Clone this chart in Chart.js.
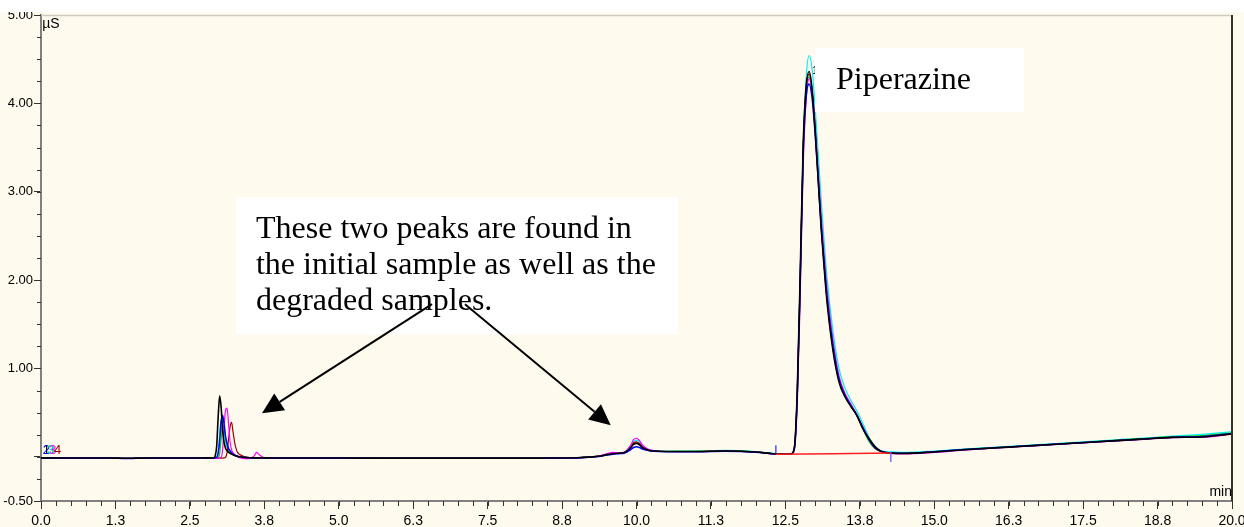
<!DOCTYPE html>
<html><head><meta charset="utf-8">
<script src="https://cdn.jsdelivr.net/npm/chart.js@4.4.1/dist/chart.umd.min.js"></script>
<style>html,body{margin:0;padding:0;background:#fefaee;}canvas{display:block;}</style>
</head><body>
<canvas id="c" width="1244" height="527"></canvas>
<script>
// retention time grid (min)
const times = [
  0, 0.5, 1.0, 1.3, 1.45, 1.6, 2.0, 2.5, 2.8,
  2.9, 2.925, 2.95, 2.975, 3.0, 3.025, 3.05, 3.075, 3.1,
  3.125, 3.15, 3.175, 3.2, 3.225, 3.25, 3.275, 3.3,
  3.35, 3.4, 3.5, 3.58, 3.62, 3.67, 3.75, 4.0,
  5.0, 6.0, 7.0, 8.0, 8.5, 8.8, 9.0, 9.2, 9.4, 9.5,
  9.6, 9.7, 9.8, 9.9, 9.95, 10.0, 10.05, 10.1, 10.2, 10.3,
  10.5, 11.0, 11.5, 12.0, 12.3, 12.5, 12.6, 12.65,
  12.7, 12.75, 12.8, 12.85, 12.9, 12.95, 13.0, 13.05, 13.1, 13.15,
  13.2, 13.3, 13.4, 13.5, 13.6, 13.7, 13.8, 13.9, 14.0, 14.1, 14.2, 14.3,
  14.5, 15.0, 15.5, 16.0, 16.5, 17.0, 17.5, 18.0, 18.5, 19.0, 19.5, 20.0
];
// conductivity (µS) per sample
const sample1Black = [
  -0.012, -0.013, -0.014, -0.015, -0.017, -0.015, -0.014, -0.014, -0.012,
  -0.012, 0.010, 0.120, 0.450, 0.690, 0.560, 0.300, 0.160, 0.095,
  0.070, 0.052, 0.040, 0.030, 0.022, 0.015, 0.010, 0.005,
  0.000, -0.005, -0.010, -0.012, -0.012, -0.012, -0.012, -0.013,
  -0.014, -0.015, -0.015, -0.015, -0.014, -0.013, -0.011, -0.004, 0.010, 0.025,
  0.035, 0.040, 0.050, 0.100, 0.140, 0.150, 0.135, 0.105, 0.075, 0.065,
  0.060, 0.060, 0.065, 0.055, 0.035, 0.030, 0.035, 0.100,
  0.75, 2.10, 3.55, 4.20, 4.36, 4.15, 3.70, 3.15, 2.60, 2.15,
  1.75, 1.20, 0.85, 0.68, 0.57, 0.47, 0.32, 0.21, 0.12, 0.065, 0.045, 0.040,
  0.038, 0.055, 0.080, 0.100, 0.120, 0.140, 0.160, 0.180, 0.200, 0.220, 0.225, 0.260
];
const sample2Blue = [
  -0.012, -0.013, -0.014, -0.016, -0.020, -0.016, -0.014, -0.013, -0.012,
  -0.012, -0.010, -0.005, 0.040, 0.180, 0.400, 0.470, 0.370, 0.230,
  0.150, 0.095, 0.068, 0.047, 0.032, 0.021, 0.012, 0.006,
  0.000, -0.005, -0.010, -0.012, -0.012, -0.012, -0.012, -0.013,
  -0.014, -0.015, -0.016, -0.016, -0.015, -0.014, -0.012, -0.006, 0.006, 0.020,
  0.030, 0.036, 0.044, 0.080, 0.105, 0.115, 0.105, 0.088, 0.070, 0.062,
  0.058, 0.058, 0.062, 0.052, 0.033, 0.028, 0.033, 0.090,
  0.70, 2.00, 3.45, 4.08, 4.22, 4.05, 3.65, 3.15, 2.62, 2.20,
  1.80, 1.25, 0.88, 0.70, 0.58, 0.47, 0.33, 0.20, 0.11, 0.065, 0.050, 0.042,
  0.040, 0.058, 0.082, 0.102, 0.122, 0.142, 0.162, 0.182, 0.203, 0.222, 0.230, 0.265
];
const sample3Magenta = [
  -0.013, -0.014, -0.015, -0.016, -0.019, -0.017, -0.016, -0.016, -0.016,
  -0.016, -0.016, -0.016, -0.016, -0.014, -0.005, 0.080, 0.350, 0.530,
  0.550, 0.370, 0.170, 0.080, 0.045, 0.028, 0.014, 0.002,
  -0.012, -0.020, -0.020, 0.010, 0.050, 0.020, -0.010, -0.016,
  -0.018, -0.018, -0.018, -0.018, -0.017, -0.015, -0.012, -0.004, 0.015, 0.035,
  0.050, 0.045, 0.055, 0.130, 0.195, 0.210, 0.185, 0.135, 0.085, 0.068,
  0.060, 0.058, 0.063, 0.052, 0.032, 0.027, 0.030, 0.075,
  0.60, 1.85, 3.30, 4.05, 4.28, 4.12, 3.75, 3.25, 2.75, 2.30,
  1.90, 1.32, 0.92, 0.72, 0.60, 0.48, 0.34, 0.21, 0.11, 0.065, 0.045, 0.036,
  0.032, 0.050, 0.075, 0.098, 0.118, 0.138, 0.158, 0.178, 0.198, 0.218, 0.220, 0.258
];
const sample4DarkRed = [
  -0.013, -0.014, -0.015, -0.016, -0.018, -0.016, -0.015, -0.015, -0.015,
  -0.015, -0.015, -0.015, -0.015, -0.015, -0.015, -0.014, -0.012, -0.005,
  0.050, 0.200, 0.340, 0.390, 0.280, 0.170, 0.095, 0.050,
  0.022, 0.006, -0.008, -0.012, -0.012, -0.012, -0.013, -0.014,
  -0.015, -0.016, -0.016, -0.016, -0.015, -0.013, -0.011, -0.004, 0.010, 0.026,
  0.036, 0.042, 0.050, 0.110, 0.160, 0.170, 0.150, 0.115, 0.078, 0.066,
  0.060, 0.060, 0.066, 0.056, 0.035, 0.030, 0.034, 0.095,
  0.72, 2.05, 3.50, 4.18, 4.33, 4.13, 3.70, 3.17, 2.63, 2.18,
  1.78, 1.22, 0.86, 0.69, 0.58, 0.47, 0.33, 0.20, 0.10, 0.060, 0.045, 0.040,
  0.038, 0.055, 0.080, 0.100, 0.120, 0.140, 0.160, 0.180, 0.200, 0.220, 0.225, 0.260
];
const sample5Green = [
  -0.012, -0.013, -0.014, -0.015, -0.017, -0.015, -0.014, -0.014, -0.013,
  -0.013, -0.013, -0.012, -0.008, 0.040, 0.200, 0.360, 0.330, 0.200,
  0.120, 0.080, 0.055, 0.040, 0.028, 0.018, 0.010, 0.005,
  0.000, -0.005, -0.010, -0.012, -0.012, -0.012, -0.012, -0.013,
  -0.014, -0.015, -0.015, -0.015, -0.014, -0.013, -0.011, -0.004, 0.010, 0.025,
  0.035, 0.041, 0.050, 0.105, 0.150, 0.160, 0.145, 0.110, 0.077, 0.066,
  0.061, 0.063, 0.070, 0.057, 0.035, 0.030, 0.034, 0.090,
  0.72, 2.05, 3.50, 4.15, 4.30, 4.12, 3.72, 3.20, 2.68, 2.22,
  1.82, 1.25, 0.88, 0.70, 0.58, 0.47, 0.32, 0.18, 0.095, 0.060, 0.048, 0.045,
  0.043, 0.060, 0.084, 0.104, 0.124, 0.144, 0.165, 0.186, 0.207, 0.228, 0.240, 0.270
];
const sample6Cyan = [
  -0.012, -0.013, -0.014, -0.015, -0.017, -0.015, -0.014, -0.014, -0.013,
  -0.013, -0.012, -0.008, 0.060, 0.250, 0.430, 0.400, 0.270, 0.160,
  0.105, 0.072, 0.052, 0.036, 0.025, 0.018, 0.010, 0.005,
  0.000, -0.005, -0.010, -0.012, -0.012, -0.012, -0.012, -0.013,
  -0.013, -0.014, -0.014, -0.014, -0.013, -0.012, -0.009, -0.002, 0.012, 0.027,
  0.037, 0.043, 0.052, 0.120, 0.175, 0.190, 0.170, 0.125, 0.082, 0.068,
  0.062, 0.065, 0.072, 0.060, 0.038, 0.032, 0.036, 0.090,
  0.68, 2.00, 3.50, 4.30, 4.54, 4.38, 3.95, 3.45, 2.92, 2.45,
  2.02, 1.42, 1.00, 0.78, 0.64, 0.52, 0.38, 0.23, 0.12, 0.070, 0.058, 0.055,
  0.050, 0.065, 0.088, 0.108, 0.128, 0.148, 0.168, 0.190, 0.212, 0.235, 0.255, 0.285
];
// integration baseline and peak delimiters
const baselineT = [12.34, 14.27];
const baselineV = [0.028, 0.043];
const startMarkT = [12.34, 12.34];
const startMarkV = [0.04, 0.13];
const endMarkT = [14.27, 14.27];
const endMarkV = [0.05, -0.06];
// axes
const xTickValues = [0, 1.25, 2.5, 3.75, 5, 6.25, 7.5, 8.75, 10, 11.25, 12.5, 13.75, 15, 16.25, 17.5, 18.75, 20];
const xTickLabels = ['0.0','1.3','2.5','3.8','5.0','6.3','7.5','8.8','10.0','11.3','12.5','13.8','15.0','16.3','17.5','18.8','20.0'];
const yTickValues = [-0.5, 0, 1, 2, 3, 4, 5];
const yTickLabels = ['-0.50', '', '1.00', '2.00', '3.00', '4.00', '5.00'];
const noteLines = ['These two peaks are found in', 'the initial sample as well as the', 'degraded samples.'];
const peakName = 'Piperazine';

const SANS = "'Liberation Sans',Arial,sans-serif";
const SERIF = "'Liberation Serif','Times New Roman',serif";
const BG = '#fefaee';

const pts = (ts, vs) => ts.map((t, i) => ({x: t, y: vs[i]}));
const line = (ts, vs, color, w) => ({data: pts(ts, vs), borderColor: color, borderWidth: w, pointRadius: 0,
  fill: false, cubicInterpolationMode: 'monotone'});

const decor = {
  id: 'decor',
  beforeDraw(chart) {
    const c = chart.ctx;
    c.save(); c.fillStyle = BG; c.fillRect(0, 0, chart.width, chart.height); c.restore();
  },
  afterDraw(chart) {
    const c = chart.ctx, x = chart.scales.x, y = chart.scales.y, a = chart.chartArea;
    const X = v => x.getPixelForValue(v), Y = v => y.getPixelForValue(v);
    c.save();
    // frame: top and right
    c.strokeStyle = '#cfcabd'; c.lineWidth = 1.5;
    c.beginPath(); c.moveTo(a.left, a.top + 0.5); c.lineTo(a.right, a.top + 0.5); c.stroke();
    c.strokeStyle = '#333'; c.lineWidth = 2;
    c.beginPath(); c.moveTo(a.right, a.top); c.lineTo(a.right, a.bottom); c.stroke();
    // minor ticks
    c.strokeStyle = '#333'; c.lineWidth = 1;
    for (let k = 0; k <= 80; k++) {
      const px = Math.round(X(k * 0.25)) + 0.5;
      c.beginPath(); c.moveTo(px, a.bottom); c.lineTo(px, a.bottom + 5); c.stroke();
    }
    for (let k = 0; k <= 22; k++) {
      const py = Math.round(Y(-0.5 + k * 0.25)) + 0.5;
      c.beginPath(); c.moveTo(a.left - 4, py); c.lineTo(a.left, py); c.stroke();
    }
    // unit labels
    c.fillStyle = '#000'; c.font = '14px ' + SANS; c.textBaseline = 'middle';
    c.textAlign = 'left'; c.fillText('µS', X(0.02), Y(4.9));
    c.textAlign = 'right'; c.fillText('min', X(20), Y(-0.40));
    // trace numbers
    c.textAlign = 'left'; c.font = '13px ' + SANS;
    [['1', '#000', 0.03], ['2', '#0000ff', 0.03], ['3', '#00c000', 0.10], ['3', '#00e0e0', 0.11], ['3', '#ff00ff', 0.14], ['4', '#a00000', 0.22]]
      .forEach(([t, col, tx]) => { c.fillStyle = col; c.fillText(t, X(tx), Y(0.075)); });
    c.fillStyle = '#000'; c.font = '10px ' + SANS; c.fillText('1', X(12.95), Y(4.36));
    // note boxes
    c.fillStyle = '#fff';
    c.fillRect(X(3.275), Y(2.939), X(10.697) - X(3.275), Y(1.387) - Y(2.939));
    c.fillRect(X(12.998), Y(4.626), X(16.507) - X(12.998), Y(3.901) - Y(4.626));
    c.fillStyle = '#000'; c.font = '32px ' + SERIF; c.textAlign = 'left'; c.textBaseline = 'alphabetic';
    [2.474, 2.067, 1.659].forEach((v, i) => c.fillText(noteLines[i], X(3.61), Y(v)));
    c.fillText(peakName, X(13.35), Y(4.162));
    // arrows
    const arrow = (t0, v0, t1, v1) => {
      const x0 = X(t0), y0 = Y(v0), x1 = X(t1), y1 = Y(v1);
      const ang = Math.atan2(y1 - y0, x1 - x0), L = 21, W = 10;
      const bx = x1 - L * Math.cos(ang), by = y1 - L * Math.sin(ang);
      c.strokeStyle = '#000'; c.lineWidth = 2;
      c.beginPath(); c.moveTo(x0, y0); c.lineTo(bx, by); c.stroke();
      c.fillStyle = '#000'; c.beginPath(); c.moveTo(x1, y1);
      c.lineTo(bx + W * Math.sin(ang), by - W * Math.cos(ang));
      c.lineTo(bx - W * Math.sin(ang), by + W * Math.cos(ang)); c.closePath(); c.fill();
    };
    arrow(6.566, 1.727, 3.711, 0.493);
    arrow(7.120, 1.727, 9.567, 0.357);
    // white top strip
    c.fillStyle = '#fff'; c.fillRect(0, 0, chart.width, 12);
    c.restore();
  }
};

new Chart(document.getElementById('c'), {
  type: 'line',
  data: {datasets: [
    line(baselineT, baselineV, '#ff2020', 1.5),
    line(startMarkT, startMarkV, '#5050ff', 1.5),
    line(endMarkT, endMarkV, '#7070ff', 1.5),
    line(times, sample1Black, '#000000', 1.6),
    line(times, sample2Blue, '#0000ff', 1.5),
    line(times, sample3Magenta, '#ff00ff', 1.2),
    line(times, sample4DarkRed, '#a00000', 1.2),
    line(times, sample5Green, '#00d000', 1.2),
    line(times, sample6Cyan, '#00f0f0', 1.2)
  ]},
  options: {
    responsive: false, animation: false, devicePixelRatio: 1,
    layout: {padding: {left: 0, right: 12, top: 15, bottom: 0}},
    plugins: {legend: {display: false}, tooltip: {enabled: false}},
    scales: {
      x: {type: 'linear', min: 0, max: 20,
        afterBuildTicks: s => { s.ticks = xTickValues.map(v => ({value: v})); },
        afterFit: s => { s.height = 26; s.paddingLeft = 0; s.paddingRight = 0; },
        ticks: {autoSkip: false, maxRotation: 0, padding: 4, color: '#000',
          font: {family: SANS, size: 14}, callback: (v, i) => xTickLabels[i]},
        grid: {drawOnChartArea: false, drawTicks: true, tickLength: 8, tickColor: '#333', tickWidth: 1},
        border: {display: true, color: '#808080', width: 2}},
      y: {type: 'linear', min: -0.5, max: 5,
        afterBuildTicks: s => { s.ticks = yTickValues.map(v => ({value: v})); },
        afterFit: s => { s.width = 41; s.paddingTop = 0; s.paddingBottom = 0; },
        ticks: {autoSkip: false, padding: 1, color: '#000',
          font: {family: SANS, size: 13}, callback: (v, i) => yTickLabels[i]},
        grid: {drawOnChartArea: false, drawTicks: true, tickLength: 7, tickColor: '#333', tickWidth: 1},
        border: {display: true, color: '#808080', width: 2}}
    }
  },
  plugins: [decor]
});
</script>
</body></html>
